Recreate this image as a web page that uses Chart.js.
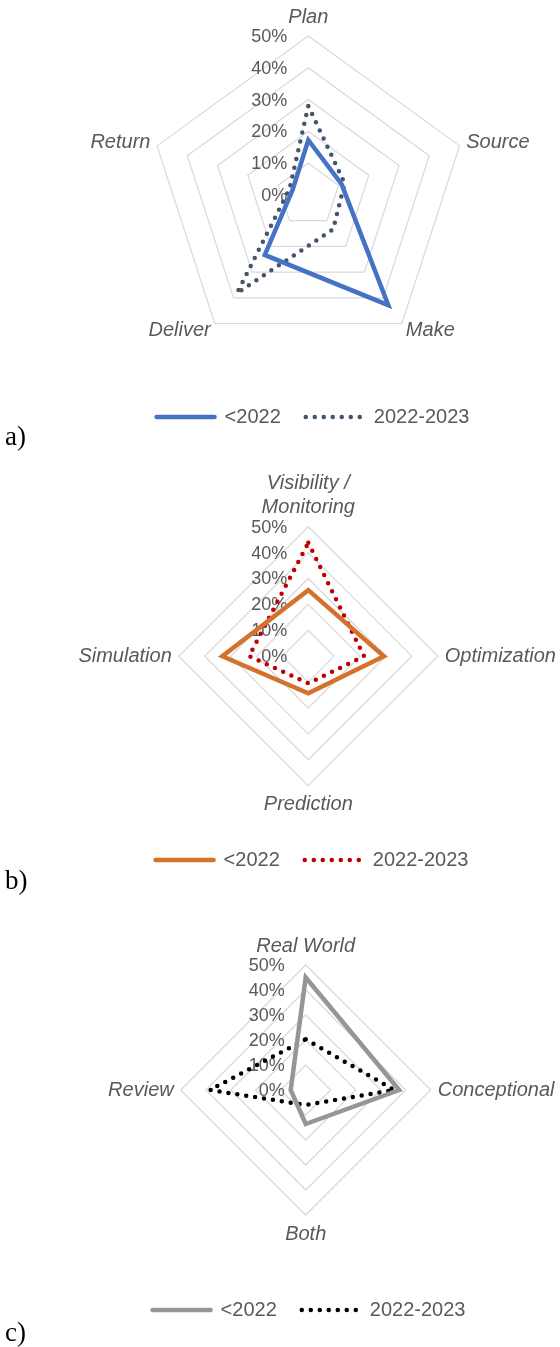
<!DOCTYPE html>
<html>
<head>
<meta charset="utf-8">
<script src="https://cdn.jsdelivr.net/npm/chart.js@4/dist/chart.umd.min.js"></script>
<style>
  body { margin: 0; background: #fff; }
  #page { position: relative; width: 560px; height: 1347px; }
  canvas { position: absolute; left: 0; }
  .tag { position: absolute; left: 5px; font: 27px "Liberation Serif", "Times New Roman", serif; line-height: 30px; color: #000; }
</style>
</head>
<body>
<div id="page">
  <canvas id="chartA" width="560" height="452" style="top:0"></canvas>
  <canvas id="chartB" width="560" height="443" style="top:452px"></canvas>
  <canvas id="chartC" width="560" height="450" style="top:895px"></canvas>
  <div class="tag" style="top:421px">a)</div>
  <div class="tag" style="top:865px">b)</div>
  <div class="tag" style="top:1317px">c)</div>
</div>
<script>
const seriesNames = ['<2022', '2022-2023'];
const tickValues = [0, 10, 20, 30, 40, 50];

// a) SCOR process areas
const scorCategories = ['Plan', 'Source', 'Make', 'Deliver', 'Return'];
const scorBefore = [17.3, 11, 42.8, 23.3, 5.2];
const scorRecent = [28, 12, 13.3, 38.2, 6.2];

// b) purpose
const purposeCategories = [['Visibility /', 'Monitoring'], 'Optimization', 'Prediction', 'Simulation'];
const purposeBefore = [25.5, 29.2, 14.3, 33.2];
const purposeRecent = [43.8, 21.5, 10.5, 22.9];

// c) data source
const dataCategories = ['Real World', 'Conceptional', 'Both', 'Review'];
const dataBefore = [45, 37.4, 13.6, 6];
const dataRecent = [20.3, 35.4, 6, 38.3];

const sans = '"Liberation Sans", Arial, sans-serif';
const grey = '#595959';

// put the radial scale where the original figure has it
const pinScale = (cx, cy, r) => ({
    id: 'pinScale',
    beforeLayout(chart) {
        chart.scales.r.setCenterPoint = function () {
            this.xCenter = cx;
            this.yCenter = cy;
            this.drawingArea = r;
        };
    }
});

// percent labels sit left of the vertical axis, under the lines
const tickText = {
    id: 'tickText',
    beforeDatasetsDraw(chart) {
        const s = chart.scales.r;
        const ctx = chart.ctx;
        ctx.save();
        ctx.font = '18px ' + sans;
        ctx.fillStyle = grey;
        ctx.textAlign = 'right';
        ctx.textBaseline = 'middle';
        s.ticks.forEach(t => {
            ctx.fillText(t.label, s.xCenter - 21, s.yCenter - s.getDistanceFromCenterForValue(t.value) + 1);
        });
        ctx.restore();
    }
};

function radar(id, labels, before, recent, colors, pin, legendLeft, labelFont) {
    return new Chart(document.getElementById(id), {
        type: 'radar',
        data: {
            labels: labels,
            datasets: [
                { label: seriesNames[0], data: before, borderColor: colors[0], borderWidth: 4.5, borderCapStyle: 'round' },
                { label: seriesNames[1], data: recent, borderColor: colors[1], borderWidth: 4.5, borderDash: [0, 9], borderCapStyle: 'round' }
            ]
        },
        options: {
            responsive: false,
            animation: false,
            events: [],
            layout: { padding: { left: legendLeft, bottom: 15 } },
            elements: {
                line: { fill: false, tension: 0, borderJoinStyle: 'miter' },
                point: { radius: 0 }
            },
            scales: {
                r: {
                    min: tickValues[0],
                    max: tickValues[tickValues.length - 1],
                    ticks: { display: false, stepSize: tickValues[1] - tickValues[0], callback: v => v + '%' },
                    grid: { color: '#D9D9D9', lineWidth: 1.25 },
                    angleLines: { display: false },
                    pointLabels: { color: grey, padding: 7, font: labelFont }
                }
            },
            plugins: {
                legend: {
                    position: 'bottom',
                    labels: {
                        usePointStyle: true,
                        pointStyleWidth: 58,
                        padding: 25,
                        color: grey,
                        font: { family: sans, size: 20 },
                        generateLabels: chart => chart.data.datasets.map((ds, i) => ({
                            text: ds.label,
                            datasetIndex: i,
                            pointStyle: 'line',
                            strokeStyle: ds.borderColor,
                            lineWidth: ds.borderWidth,
                            lineDash: ds.borderDash || [],
                            lineCap: 'round',
                            fontColor: grey
                        }))
                    }
                },
                tooltip: { enabled: false }
            }
        },
        plugins: [pinScale(pin[0], pin[1], pin[2]), tickText]
    });
}

const italic = { family: sans, size: 20, style: 'italic', lineHeight: 1.2 };
// pentagon side labels hang from their corner, so keep their box flat
const pentagonFont = ctx => ({ family: sans, size: 20, style: 'italic', lineHeight: ctx.index === 0 ? 1.2 : 0.1 });

radar('chartA', scorCategories, scorBefore, scorRecent, ['#4472C4', '#44546A'], [308.3, 195, 159], 66, pentagonFont);
radar('chartB', purposeCategories, purposeBefore, purposeRecent, ['#D4722C', '#C00000'], [308.3, 204.2, 129.5], 64, italic);
radar('chartC', dataCategories, dataBefore, dataRecent, ['#969696', '#000000'], [305.7, 195, 125], 58, italic);
</script>
</body>
</html>
